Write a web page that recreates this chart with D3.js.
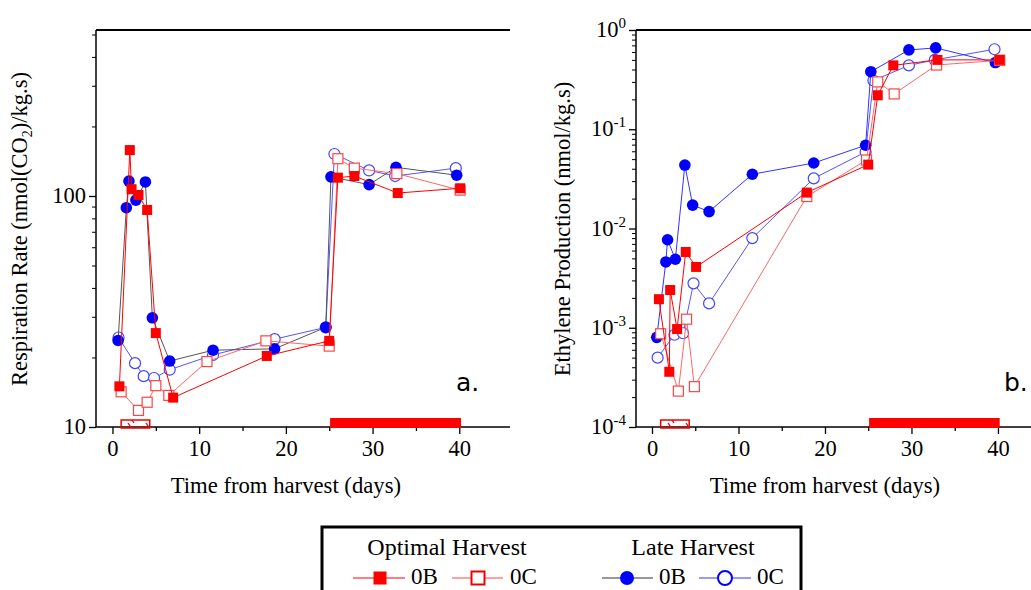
<!DOCTYPE html>
<html>
<head>
<meta charset="utf-8">
<script src="https://cdn.jsdelivr.net/npm/d3@7"></script>
<style>
  html, body { margin: 0; padding: 0; background: #fff; }
  svg { display: block; }
  text { font-family: "Liberation Serif", "Times New Roman", serif; fill: #000; }
</style>
</head>
<body>
<svg id="chart" width="1031" height="590"></svg>
<script>
// ---- Respiration (panel a) ----
const respDaysOptB = [0.8, 2.0, 2.2, 3.0, 4.0, 5.0, 7.0, 17.8, 25.0, 26.0, 27.9, 32.9, 40.1];
const respOptB     = [15, 158, 107, 101, 87, 25.5, 13.4, 20.3, 23.6, 120, 122, 103, 108];
const respDaysOptC = [1.0, 3.0, 4.0, 5.0, 6.5, 10.9, 17.7, 25.0, 26.0, 27.9, 32.8, 40.1];
const respOptC     = [14.2, 11.8, 12.8, 15.1, 13.7, 19.2, 23.6, 22.4, 145, 132, 125, 106];
const respDaysLateB = [0.65, 1.6, 1.9, 2.7, 3.8, 4.6, 6.6, 11.6, 18.7, 24.6, 25.2, 29.6, 32.7, 39.7];
const respLateB     = [23.7, 89, 116, 96, 115, 29.7, 19.3, 21.5, 21.8, 27, 121, 112, 133, 123];
const respDaysLateC = [0.7, 2.6, 3.6, 4.8, 6.6, 11.6, 18.7, 24.6, 25.6, 29.6, 32.6, 39.6];
const respLateC     = [24.4, 18.9, 16.6, 16.3, 17.7, 20.5, 24, 27, 152, 129, 122, 132];

// ---- Ethylene (panel b) ----
const ethDaysOptB = [0.8, 2.0, 2.1, 2.9, 3.9, 5.1, 17.9, 25.0, 26.1, 27.9, 33.0, 40.2];
const ethOptB     = [0.00194, 0.00036, 0.0024, 0.00097, 0.0058, 0.0041, 0.023, 0.044, 0.22, 0.44, 0.5, 0.5];
const ethDaysOptC = [1.0, 3.05, 4.0, 4.9, 17.9, 24.8, 26.1, 28.0, 32.9, 40.2];
const ethOptC     = [0.00087, 0.00023, 0.00122, 0.000255, 0.021, 0.049, 0.30, 0.227, 0.444, 0.495];
const ethDaysLateB = [0.55, 1.6, 1.8, 2.7, 3.8, 4.7, 6.6, 11.6, 18.7, 24.7, 25.3, 29.7, 32.8, 39.7];
const ethLateB     = [0.0008, 0.0046, 0.0077, 0.0049, 0.0436, 0.0172, 0.0148, 0.0352, 0.0457, 0.069, 0.38, 0.63, 0.66, 0.47];
const ethDaysLateC = [0.65, 2.6, 3.6, 4.8, 6.6, 11.6, 18.7, 24.7, 25.6, 29.7, 32.7, 39.6];
const ethLateC     = [0.0005, 0.00085, 0.00088, 0.0028, 0.00176, 0.008, 0.032, 0.059, 0.31, 0.44, 0.5, 0.64];

// Storage periods shown along the bottom axis
const coldPeriod  = [1.0, 4.3];    // hatched bar
const shelfPeriod = [25.1, 40.2];  // solid bar

// Axis ticks
const xMajorTicks = [0, 10, 20, 30, 40];
const xMinorTicks = [5, 15, 25, 35];
const respMajorTicks = [10, 100];
const ethMajorExponents = [0, -1, -2, -3, -4];

const svg = d3.select("#chart");
const defs = svg.append("defs");
const pat = defs.append("pattern")
  .attr("id", "hatch").attr("patternUnits", "userSpaceOnUse")
  .attr("width", 18).attr("height", 9);
pat.append("line").attr("x1", 2).attr("y1", 0).attr("x2", 8).attr("y2", 9)
  .attr("stroke", "#e00").attr("stroke-width", 1.3);

const plotTop = 30, plotBottom = 427;

function zip(days, vals) { return days.map((d, i) => ({ d, v: vals[i] })); }

function drawPanel(cfg) {
  const g = svg.append("g");
  const x = d3.scaleLinear().domain(cfg.xDomain).range(cfg.xRange);
  const y = d3.scaleLog().domain(cfg.yDomain).range([plotBottom, plotTop]);

  // frame: left axis, bottom axis, top border
  g.append("line").attr("x1", cfg.xRange[0]).attr("x2", cfg.xRange[1])
    .attr("y1", plotTop).attr("y2", plotTop).attr("stroke", "#000").attr("stroke-width", 2);
  g.append("line").attr("x1", cfg.xRange[0]).attr("x2", cfg.xRange[0])
    .attr("y1", plotTop).attr("y2", plotBottom).attr("stroke", "#000").attr("stroke-width", 1.5);
  g.append("line").attr("x1", cfg.xRange[0]).attr("x2", cfg.xRange[1])
    .attr("y1", plotBottom).attr("y2", plotBottom).attr("stroke", "#000").attr("stroke-width", 1.5);

  // x axis ticks
  const xAxis = d3.axisBottom(x).tickValues(xMajorTicks).tickSize(7).tickPadding(6)
    .tickFormat(d3.format("d"));
  const xa = g.append("g").attr("transform", `translate(0,${plotBottom})`).call(xAxis);
  xa.select(".domain").remove();
  xa.selectAll("text").attr("font-size", 22.5).attr("fill", "#000");
  xa.selectAll("line").attr("stroke-width", 1.3);
  const xMin = d3.axisBottom(x).tickValues(xMinorTicks).tickSize(4).tickFormat("");
  const xm = g.append("g").attr("transform", `translate(0,${plotBottom})`).call(xMin);
  xm.select(".domain").remove();
  xm.selectAll("line").attr("stroke-width", 1.3);

  // y axis ticks
  const yAxis = d3.axisLeft(y).tickValues(cfg.yMajor).tickSize(7).tickFormat("");
  const ya = g.append("g").attr("transform", `translate(${cfg.xRange[0]},0)`).call(yAxis);
  ya.select(".domain").remove();
  ya.selectAll("line").attr("stroke-width", 1.3);
  const yMinor = d3.axisLeft(y).tickValues(cfg.yMinor).tickSize(4).tickFormat("");
  const ym = g.append("g").attr("transform", `translate(${cfg.xRange[0]},0)`).call(yMinor);
  ym.select(".domain").remove();
  ym.selectAll("line").attr("stroke-width", 1);
  cfg.yLabel(g, y, cfg.xRange[0] - 10);

  // storage period bars
  g.append("rect")
    .attr("x", x(coldPeriod[0])).attr("y", plotBottom - 7)
    .attr("width", x(coldPeriod[1]) - x(coldPeriod[0])).attr("height", 8)
    .attr("fill", "url(#hatch)").attr("stroke", "#e00").attr("stroke-width", 1.5);
  g.append("rect")
    .attr("x", x(shelfPeriod[0])).attr("y", plotBottom - 9)
    .attr("width", x(shelfPeriod[1]) - x(shelfPeriod[0])).attr("height", 10)
    .attr("fill", "#f00");

  const line = d3.line().x(p => x(p.d)).y(p => y(p.v));

  cfg.series.forEach(s => {
    const pts = zip(s.days, s.vals);
    g.append("path").datum(pts).attr("d", line)
      .attr("fill", "none").attr("stroke", s.line).attr("stroke-width", 1);
    if (s.shape === "square") {
      const sz = 10;
      g.selectAll(null).data(pts).enter().append("rect")
        .attr("x", p => x(p.d) - sz / 2).attr("y", p => y(p.v) - sz / 2)
        .attr("width", sz).attr("height", sz)
        .attr("fill", s.filled ? "#f00" : "#fff")
        .attr("stroke", s.filled ? "none" : "#f44").attr("stroke-width", 1.2);
    } else {
      g.selectAll(null).data(pts).enter().append("circle")
        .attr("cx", p => x(p.d)).attr("cy", p => y(p.v))
        .attr("r", s.filled ? 5.8 : 5.5)
        .attr("fill", s.filled ? "#00f" : "#fff")
        .attr("stroke", s.filled ? "none" : "#44f").attr("stroke-width", 1.2);
    }
  });

  // x title
  g.append("text").attr("x", (x(0) + x(40)) / 2).attr("y", 493)
    .attr("text-anchor", "middle").attr("font-size", 22.7).text("Time from harvest (days)");

  // panel tag
  g.append("text").attr("x", cfg.tagX).attr("y", 391)
    .style("font-family", "'DejaVu Sans', sans-serif")
    .attr("font-size", 25).text(cfg.tag);
}

// Panel a: respiration rate
const respMinor = [20, 30, 40, 50, 60, 70, 80, 90, 200, 300, 400, 500];
drawPanel({
  xDomain: [-1.9, 45.85], xRange: [96, 510],
  yDomain: [10, 523], yMajor: respMajorTicks, yMinor: respMinor,
  tag: "a.", tagX: 456,
  yLabel: (g, y, xr) => {
    g.selectAll(null).data(respMajorTicks).enter().append("text")
      .attr("x", xr).attr("y", d => y(d) + 7).attr("text-anchor", "end")
      .attr("font-size", 22.5).text(d => d);
    const t = g.append("text").attr("transform", "translate(27,229) rotate(-90)")
      .attr("text-anchor", "middle").attr("font-size", 22.5);
    t.append("tspan").text("Respiration Rate (nmol(CO");
    t.append("tspan").attr("font-size", 14).attr("dy", 5).text("2");
    t.append("tspan").attr("dy", -5).text(")/kg.s)");
  },
  series: [
    { days: respDaysLateC, vals: respLateC, shape: "circle", filled: false, line: "#5555ff" },
    { days: respDaysLateB, vals: respLateB, shape: "circle", filled: true, line: "#555" },
    { days: respDaysOptC, vals: respOptC, shape: "square", filled: false, line: "#ff6666" },
    { days: respDaysOptB, vals: respOptB, shape: "square", filled: true, line: "#f00" }
  ]
});

// Panel b: ethylene production
const ethMinor = [];
[-4, -3, -2, -1].forEach(e => { for (let k = 2; k <= 9; k++) ethMinor.push(k * Math.pow(10, e)); });
drawPanel({
  xDomain: [-1.85, 43.82], xRange: [636, 1031],
  yDomain: [1e-4, 1], yMajor: ethMajorExponents.map(e => Math.pow(10, e)), yMinor: ethMinor,
  tag: "b.", tagX: 1004,
  yLabel: (g, y, xr) => {
    const lbl = g.selectAll(null).data(ethMajorExponents).enter().append("text")
      .attr("x", xr).attr("y", d => y(Math.pow(10, d)) + 7).attr("text-anchor", "end")
      .attr("font-size", 22.5);
    lbl.append("tspan").text("10");
    lbl.append("tspan").attr("font-size", 15).attr("dy", -9).text(d => d === 0 ? "0" : "-" + Math.abs(d));
    g.append("text").attr("transform", "translate(570,229) rotate(-90)")
      .attr("text-anchor", "middle").attr("font-size", 22.5)
      .text("Ethylene Production (nmol/kg.s)");
  },
  series: [
    { days: ethDaysLateC, vals: ethLateC, shape: "circle", filled: false, line: "#5555ff" },
    { days: ethDaysLateB, vals: ethLateB, shape: "circle", filled: true, line: "#3333ff" },
    { days: ethDaysOptC, vals: ethOptC, shape: "square", filled: false, line: "#ff6666" },
    { days: ethDaysOptB, vals: ethOptB, shape: "square", filled: true, line: "#f00" }
  ]
});

// Legend
const lg = svg.append("g");
lg.append("rect").attr("x", 322).attr("y", 527).attr("width", 479).attr("height", 80)
  .attr("fill", "#fff").attr("stroke", "#000").attr("stroke-width", 3);
lg.append("text").attr("x", 447).attr("y", 555).attr("text-anchor", "middle")
  .attr("font-size", 24).text("Optimal Harvest");
lg.append("text").attr("x", 693).attr("y", 555).attr("text-anchor", "middle")
  .attr("font-size", 24).text("Late Harvest");
const legendItems = [
  { x0: 353, x1: 405, cx: 380, tx: 411, line: "#f00", shape: "square", filled: true, label: "0B" },
  { x0: 452, x1: 503, cx: 478, tx: 510, line: "#f44", shape: "square", filled: false, label: "0C" },
  { x0: 602, x1: 653, cx: 627, tx: 659, line: "#333", shape: "circle", filled: true, label: "0B" },
  { x0: 699, x1: 751, cx: 725, tx: 757, line: "#33f", shape: "circle", filled: false, label: "0C" }
];
const ly = 578;
legendItems.forEach(it => {
  lg.append("line").attr("x1", it.x0).attr("x2", it.x1).attr("y1", ly).attr("y2", ly)
    .attr("stroke", it.line).attr("stroke-width", 1.2);
  if (it.shape === "square") {
    lg.append("rect").attr("x", it.cx - 6.5).attr("y", ly - 6.5).attr("width", 13).attr("height", 13)
      .attr("fill", it.filled ? "#f00" : "#fff").attr("stroke", it.filled ? "none" : "#e00")
      .attr("stroke-width", 2);
  } else {
    lg.append("circle").attr("cx", it.cx).attr("cy", ly).attr("r", 7)
      .attr("fill", it.filled ? "#00f" : "#fff").attr("stroke", it.filled ? "none" : "#00f")
      .attr("stroke-width", 2);
  }
  lg.append("text").attr("x", it.tx).attr("y", ly + 6).attr("font-size", 23).text(it.label);
});
</script>
</body>
</html>
